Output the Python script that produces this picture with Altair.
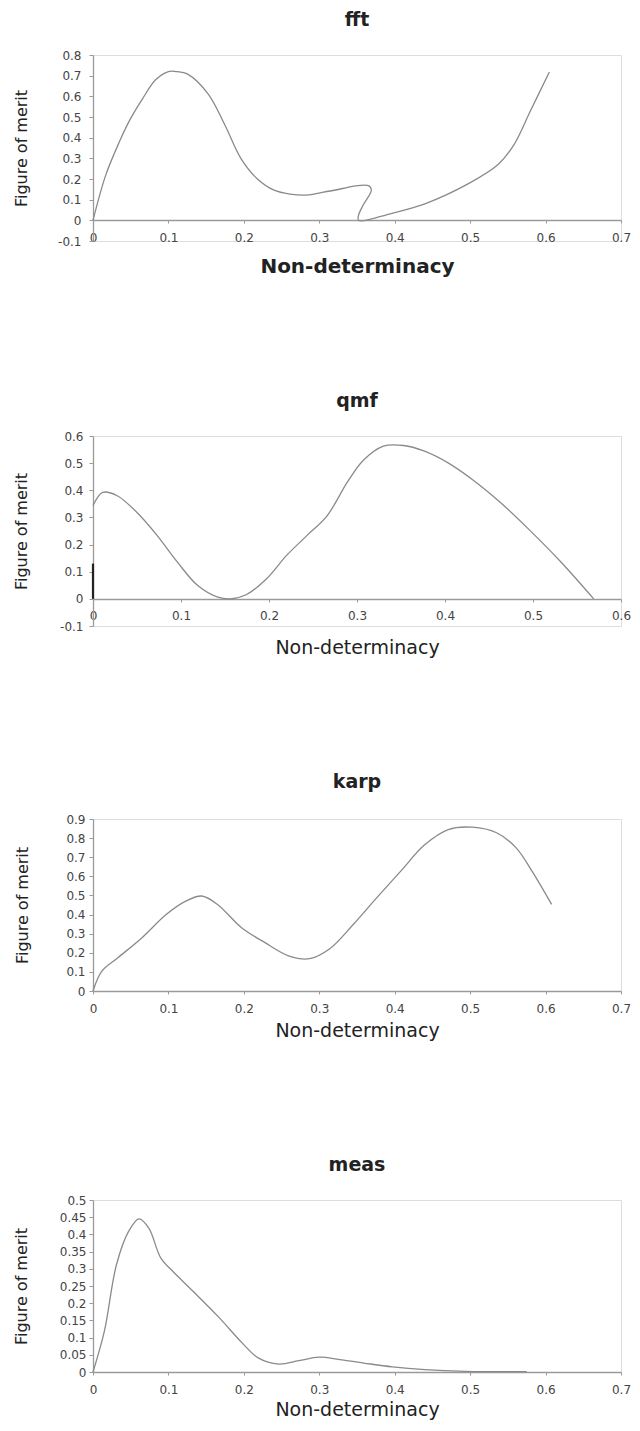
import altair as alt
import pandas as pd

# ---------------- data ----------------
fft_x = [0, 0.017, 0.035, 0.048, 0.066, 0.083, 0.1, 0.11, 0.126, 0.153, 0.175, 0.196, 0.218,
         0.24, 0.261, 0.283, 0.304, 0.331, 0.348, 0.366, 0.369, 0.358, 0.352, 0.352, 0.361,
         0.39, 0.44, 0.499, 0.537, 0.558, 0.58, 0.605]
fft_y = [0, 0.22, 0.38, 0.48, 0.59, 0.68, 0.72, 0.72, 0.706, 0.61, 0.46, 0.30, 0.20,
         0.146, 0.127, 0.122, 0.135, 0.154, 0.167, 0.167, 0.146, 0.073, 0.024, 0.0, 0.0,
         0.028, 0.08, 0.18, 0.27, 0.365, 0.53, 0.718]

qmf_x = [0, 0.011, 0.0275, 0.05, 0.073, 0.096, 0.119, 0.142, 0.156, 0.174, 0.197, 0.22,
         0.243, 0.266, 0.289, 0.307, 0.33, 0.353, 0.376, 0.403, 0.431, 0.463, 0.495, 0.532, 0.569]
qmf_y = [0.343, 0.392, 0.38, 0.318, 0.233, 0.135, 0.049, 0.006, 0, 0.015, 0.073, 0.16,
         0.233, 0.306, 0.43, 0.51, 0.563, 0.565, 0.545, 0.502, 0.44, 0.355, 0.257, 0.135, 0]
qmf_spike_x = [0, 0]
qmf_spike_y = [0, 0.13]

karp_x = [0, 0.012, 0.033, 0.065, 0.097, 0.123, 0.144, 0.165, 0.197, 0.228, 0.26, 0.287,
          0.313, 0.345, 0.376, 0.408, 0.44, 0.471, 0.503, 0.535, 0.561, 0.582, 0.608]
karp_y = [0, 0.105, 0.174, 0.279, 0.4, 0.47, 0.497, 0.453, 0.331, 0.253, 0.183, 0.169,
          0.218, 0.348, 0.487, 0.627, 0.766, 0.845, 0.857, 0.828, 0.749, 0.627, 0.453]

meas_x = [0, 0.015, 0.031, 0.047, 0.061, 0.074, 0.09, 0.106, 0.133, 0.166, 0.198, 0.219,
          0.246, 0.273, 0.3, 0.327, 0.359, 0.397, 0.44, 0.494, 0.575]
meas_y = [0, 0.118, 0.311, 0.408, 0.445, 0.418, 0.331, 0.292, 0.234, 0.161, 0.084, 0.041,
          0.023, 0.033, 0.043, 0.036, 0.026, 0.015, 0.007, 0.002, 0.001]

x_ticks_07 = [0, 0.1, 0.2, 0.3, 0.4, 0.5, 0.6, 0.7]
x_ticks_06 = [0, 0.1, 0.2, 0.3, 0.4, 0.5, 0.6]
fft_y_ticks = [-0.1, 0, 0.1, 0.2, 0.3, 0.4, 0.5, 0.6, 0.7, 0.8]
qmf_y_ticks = [-0.1, 0, 0.1, 0.2, 0.3, 0.4, 0.5, 0.6]
karp_y_ticks = [0, 0.1, 0.2, 0.3, 0.4, 0.5, 0.6, 0.7, 0.8, 0.9]
meas_y_ticks = [0, 0.05, 0.1, 0.15, 0.2, 0.25, 0.3, 0.35, 0.4, 0.45, 0.5]

X_TITLE = "Non-determinacy"
Y_TITLE = "Figure of merit"

FONT = "DejaVu Sans"
LINE = "#8a8a8a"
AXIS = "#9a9a9a"
LABEL = "#444444"
TEXT = "#222222"
LABEL_EXPR = "'' + round(datum.value * 100) / 100"


def panel(name, xs, ys, xdom, ydom, xticks, yticks, width, height, title_offset,
          x_offset, x_lp, x_tp, x_bold, y_lp, y_tp, extra=None):
    df = pd.DataFrame({"x": xs, "y": ys, "i": list(range(len(xs)))})
    xaxis = alt.Axis(values=xticks, labelExpr=LABEL_EXPR, grid=False, offset=x_offset,
                     tickSize=3, labelPadding=x_lp, titlePadding=x_tp, labelFlush=False,
                     labelOverlap=False, domainColor=AXIS, tickColor=AXIS, domainWidth=1.3,
                     labelFont=FONT, labelFontSize=12, labelColor=LABEL,
                     titleFont=FONT, titleFontSize=20 if x_bold else 19,
                     titleFontWeight="bold" if x_bold else "normal", titleColor=TEXT)
    yaxis = alt.Axis(values=yticks, labelExpr=LABEL_EXPR, grid=False, tickSize=4,
                     labelPadding=y_lp, titlePadding=y_tp, labelOverlap=False,
                     domainColor=AXIS, tickColor=AXIS, domainWidth=1.3,
                     labelFont=FONT, labelFontSize=12, labelColor=LABEL,
                     titleFont=FONT, titleFontSize=16, titleFontWeight="normal", titleColor=TEXT)
    xenc = alt.X("x:Q", scale=alt.Scale(domain=xdom, nice=False, zero=False), axis=xaxis, title=X_TITLE)
    yenc = alt.Y("y:Q", scale=alt.Scale(domain=ydom, nice=False, zero=False), axis=yaxis, title=Y_TITLE)
    line = alt.Chart(df).mark_line(color=LINE, strokeWidth=1.3, interpolate="catmull-rom").encode(
        x=xenc, y=yenc, order="i:Q",
    )
    layers = [line]
    if extra is not None:
        ex, ey = extra
        edf = pd.DataFrame({"x": ex, "y": ey, "i": list(range(len(ex)))})
        layers.append(alt.Chart(edf).mark_line(color="#222222", strokeWidth=2.2).encode(
            x=xenc, y=yenc, order="i:Q"))
    ch = alt.layer(*layers) if len(layers) > 1 else line
    return ch.properties(
        width=width, height=height,
        title=alt.TitleParams(name, font=FONT, fontSize=19, fontWeight="bold", color=TEXT,
                              offset=title_offset),
    )


p1 = panel("fft", fft_x, fft_y, [0, 0.7], [-0.1, 0.8], x_ticks_07, fft_y_ticks,
           528, 186, 19, -21, 9, 13, True, 8, 27.6)
p2 = panel("qmf", qmf_x, qmf_y, [0, 0.6], [-0.1, 0.6], x_ticks_06, qmf_y_ticks,
           528, 190, 19, -27, 8, 17, False, 6, 29.6, extra=(qmf_spike_x, qmf_spike_y))
p3 = panel("karp", karp_x, karp_y, [0, 0.7], [0, 0.9], x_ticks_07, karp_y_ticks,
           528, 172, 21, 0, 9, 7, False, 4, 35.9)
p4 = panel("meas", meas_x, meas_y, [0, 0.7], [0, 0.5], x_ticks_07, meas_y_ticks,
           528, 172, 19, 0, 9, 5, False, 3, 29.3)

chart = alt.concat(p1, p2, p3, p4, columns=1, spacing=114, align="none").properties(
    padding={"left": 5, "top": 2, "right": 0, "bottom": 0}
).configure_view(stroke="transparent").configure(background="white")

chart.save("out.html", embed_options={"renderer": "svg", "actions": False})
